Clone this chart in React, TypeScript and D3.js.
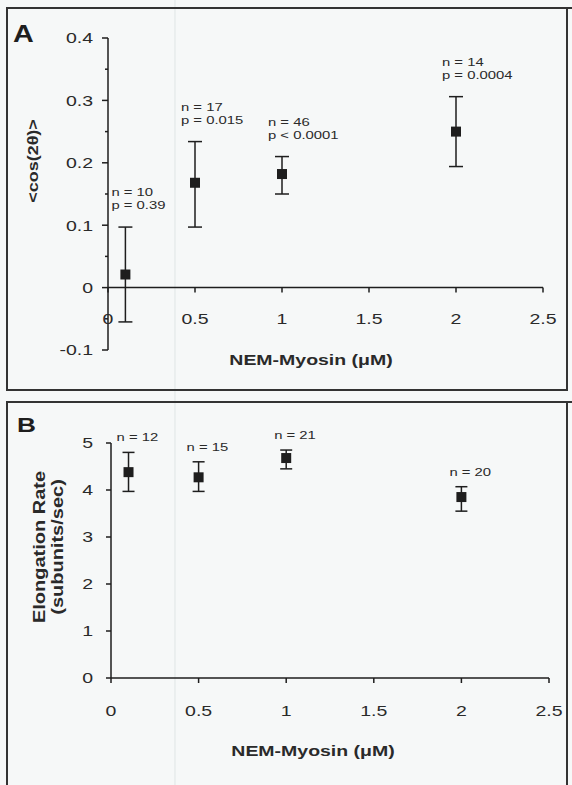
import React from "react";
import * as d3 from "d3";

// Panel A data
const aConc = [0.1, 0.5, 1.0, 2.0];
const aMean = [0.021, 0.168, 0.182, 0.25];
const aLow = [-0.055, 0.097, 0.15, 0.194];
const aHigh = [0.097, 0.234, 0.21, 0.306];
const aN = ["n = 10", "n = 17", "n = 46", "n = 14"];
const aP = ["p = 0.39", "p = 0.015", "p < 0.0001", "p = 0.0004"];
const aYTicks = [-0.1, 0, 0.1, 0.2, 0.3, 0.4];
const aYMinor = [-0.05, 0.05, 0.15, 0.25, 0.35];

// Panel B data
const bConc = [0.1, 0.5, 1.0, 2.0];
const bMean = [4.38, 4.27, 4.68, 3.85];
const bLow = [3.97, 3.97, 4.45, 3.55];
const bHigh = [4.8, 4.6, 4.85, 4.07];
const bN = ["n = 12", "n = 15", "n = 21", "n = 20"];
const bYTicks = [0, 1, 2, 3, 4, 5];

const xTicks = [0, 0.5, 1, 1.5, 2, 2.5];

const FONT = "'Liberation Sans', Arial, sans-serif";
const INK = "#1e1e1e";
const TXT = "#2a2a2a";

type TProps = {
  x: number;
  y: number;
  size: number;
  sx?: number;
  rot?: number;
  anchor?: string;
  bold?: boolean;
  dy?: string;
  fill?: string;
  children: React.ReactNode;
};

function T({ x, y, size, sx = 1.3, rot = 0, anchor = "start", bold = false, dy, fill = TXT, children }: TProps) {
  return (
    <text
      transform={`translate(${x},${y}) rotate(${rot}) scale(${sx},1)`}
      fontSize={size}
      fontWeight={bold ? "bold" : "normal"}
      textAnchor={anchor}
      dy={dy}
      fill={fill}
    >
      {children}
    </text>
  );
}

export default function App() {
  const xA = d3.scaleLinear().domain([0, 2.5]).range([108, 543]);
  const yA = d3.scaleLinear().domain([-0.1, 0.4]).range([350, 38]);
  const xB = d3.scaleLinear().domain([0, 2.5]).range([111, 549]);
  const yB = d3.scaleLinear().domain([0, 5]).range([678, 443]);

  const fmtA = (v: number) => (v === 0 ? "0" : d3.format(".1f")(v).replace("\u2212", "-"));
  const fmtX = (v: number) => (v === 0 ? "0" : d3.format("~g")(v));

  return (
    <svg
      width={572}
      height={785}
      style={{ position: "absolute", left: 0, top: 0 }}
      fontFamily={FONT}
    >
      <rect x={0} y={0} width={572} height={785} fill="#f6f8f8" />
      <line x1={175} x2={175} y1={0} y2={785} stroke="#dfe5e5" strokeWidth={1} />

      {/* Panel A frame */}
      <rect x={7} y={8} width={560} height={382} fill="none" stroke="#333" strokeWidth={2} />
      <line x1={567} x2={572} y1={8} y2={8} stroke="#333" strokeWidth={2} />
      <T x={13} y={42} size={23} bold sx={1.25} fill={INK}>A</T>

      {/* Panel A y axis */}
      <line x1={xA(0)} x2={xA(0)} y1={yA(-0.1)} y2={yA(0.4)} stroke={INK} strokeWidth={1.5} />
      {aYTicks.map((t) => (
        <g key={"ayt" + t}>
          <line x1={xA(0) - 6} x2={xA(0)} y1={yA(t)} y2={yA(t)} stroke={INK} strokeWidth={1.5} />
          <T x={xA(0) - 15} y={yA(t)} dy="0.36em" anchor="end" size={15}>
            {fmtA(t)}
          </T>
        </g>
      ))}
      {aYMinor.map((t) => (
        <line key={"aym" + t} x1={xA(0) - 3} x2={xA(0)} y1={yA(t)} y2={yA(t)} stroke={INK} strokeWidth={1.5} />
      ))}
      {/* Panel A x axis */}
      <line x1={xA(0)} x2={xA(2.5)} y1={yA(0)} y2={yA(0)} stroke={INK} strokeWidth={1.5} />
      {xTicks.map((t) => (
        <g key={"axt" + t}>
          <line x1={xA(t)} x2={xA(t)} y1={yA(0)} y2={yA(0) + 5} stroke={INK} strokeWidth={1.5} />
          <T x={xA(t)} y={yA(0) + 36} anchor="middle" size={15}>
            {fmtX(t)}
          </T>
        </g>
      ))}
      <T x={311} y={365} anchor="middle" size={15} bold>
        NEM-Myosin (μM)
      </T>
      <T x={38} y={161} rot={-90} sx={1.2} anchor="middle" size={15} bold>
        {"<cos(2θ)>"}
      </T>

      {/* Panel A points */}
      {aConc.map((c, i) => (
        <g key={"ap" + i}>
          <line x1={xA(c)} x2={xA(c)} y1={yA(aLow[i])} y2={yA(aHigh[i])} stroke={INK} strokeWidth={1.5} />
          <line x1={xA(c) - 7} x2={xA(c) + 7} y1={yA(aLow[i])} y2={yA(aLow[i])} stroke={INK} strokeWidth={1.5} />
          <line x1={xA(c) - 7} x2={xA(c) + 7} y1={yA(aHigh[i])} y2={yA(aHigh[i])} stroke={INK} strokeWidth={1.5} />
          <rect x={xA(c) - 5} y={yA(aMean[i]) - 5} width={10} height={10} fill={INK} />
        </g>
      ))}
      {/* Panel A annotations */}
      {aConc.map((c, i) => {
        const x0 = xA(c) - 14;
        const yTop = yA(aHigh[i]) - 31;
        return (
          <g key={"aa" + i}>
            <T x={x0} y={yTop} size={11} sx={1.35}>{aN[i]}</T>
            <T x={x0} y={yTop + 13} size={11} sx={1.35}>{aP[i]}</T>
          </g>
        );
      })}

      {/* Panel B frame */}
      <path d="M7,790 L7,402 L567,402 L567,790" fill="none" stroke="#333" strokeWidth={2} />
      <line x1={567} x2={572} y1={402} y2={402} stroke="#333" strokeWidth={2} />
      <T x={17} y={432} size={21} bold sx={1.25} fill={INK}>B</T>

      {/* Panel B y axis */}
      <line x1={xB(0)} x2={xB(0)} y1={yB(0)} y2={yB(5)} stroke={INK} strokeWidth={1.5} />
      {bYTicks.map((t) => (
        <g key={"byt" + t}>
          <line x1={xB(0) - 5} x2={xB(0)} y1={yB(t)} y2={yB(t)} stroke={INK} strokeWidth={1.5} />
          <T x={xB(0) - 18} y={yB(t)} dy="0.36em" anchor="end" size={15}>
            {String(t)}
          </T>
        </g>
      ))}
      {/* Panel B x axis */}
      <line x1={xB(0)} x2={xB(2.5)} y1={yB(0)} y2={yB(0)} stroke={INK} strokeWidth={1.5} />
      {xTicks.map((t) => (
        <g key={"bxt" + t}>
          <line x1={xB(t)} x2={xB(t)} y1={yB(0)} y2={yB(0) + 5} stroke={INK} strokeWidth={1.5} />
          <T x={xB(t)} y={yB(0) + 38} anchor="middle" size={15}>
            {fmtX(t)}
          </T>
        </g>
      ))}
      <T x={313} y={756} anchor="middle" size={15} bold>
        NEM-Myosin (μM)
      </T>
      <T x={45} y={547} rot={-90} sx={1.25} anchor="middle" size={16} bold>
        Elongation Rate
      </T>
      <T x={63} y={547} rot={-90} sx={1.25} anchor="middle" size={16} bold>
        (subunits/sec)
      </T>

      {/* Panel B points */}
      {bConc.map((c, i) => (
        <g key={"bp" + i}>
          <line x1={xB(c)} x2={xB(c)} y1={yB(bLow[i])} y2={yB(bHigh[i])} stroke={INK} strokeWidth={1.5} />
          <line x1={xB(c) - 6} x2={xB(c) + 6} y1={yB(bLow[i])} y2={yB(bLow[i])} stroke={INK} strokeWidth={1.5} />
          <line x1={xB(c) - 6} x2={xB(c) + 6} y1={yB(bHigh[i])} y2={yB(bHigh[i])} stroke={INK} strokeWidth={1.5} />
          <rect x={xB(c) - 5} y={yB(bMean[i]) - 5} width={10} height={10} fill={INK} />
          <T x={xB(c) - 12} y={yB(bHigh[i]) - 11} size={11} sx={1.35}>
            {bN[i]}
          </T>
        </g>
      ))}
    </svg>
  );
}
